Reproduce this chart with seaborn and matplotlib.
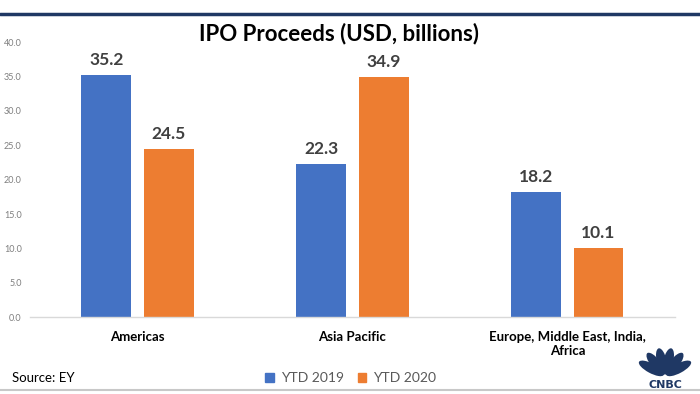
import matplotlib
matplotlib.use("Agg")
import matplotlib.pyplot as plt
import seaborn as sns
import pandas as pd
import numpy as np
from matplotlib.lines import Line2D
from matplotlib.patches import Ellipse

categories = ["Americas", "Asia Pacific", "Europe, Middle East, India,\nAfrica"]
series_names = ["YTD 2019", "YTD 2020"]
ytd_2019 = [35.2, 22.3, 18.2]
ytd_2020 = [24.5, 34.9, 10.1]
y_ticks = [0, 5, 10, 15, 20, 25, 30, 35, 40]

df = pd.DataFrame({
    "Region": categories * 2,
    "Series": [series_names[0]] * 3 + [series_names[1]] * 3,
    "Value": ytd_2019 + ytd_2020,
})

sns.set_theme(style="white")
plt.rcParams["font.family"] = ["Lato", "DejaVu Sans"]

fig = plt.figure(figsize=(7, 3.94), dpi=100)
ax = fig.add_axes([0.043, 0.195, 0.921, 0.698])

palette = {"YTD 2019": "#4472C4", "YTD 2020": "#ED7D31"}
sns.barplot(data=df, x="Region", y="Value", hue="Series", palette=palette,
            order=categories, hue_order=series_names, width=0.58, gap=0.2,
            saturation=1, legend=False, linewidth=0, ax=ax)

for cont in ax.containers:
    ax.bar_label(cont, fmt="%.1f", padding=5, fontsize=12.5, fontweight="bold",
                 color="#404040")

ax.set_ylim(0, 40)
ax.set_yticks(y_ticks)
ax.set_yticklabels([f"{v:.1f}" for v in y_ticks], fontsize=6.5, color="#7f7f7f")
ax.tick_params(axis="y", length=0, pad=6)
ax.tick_params(axis="x", length=0, pad=10)
for lbl in ax.get_xticklabels():
    lbl.set_fontsize(9.5)
    lbl.set_fontweight("bold")
    lbl.set_color("#000000")
ax.set_xlabel("")
ax.set_ylabel("")
for s in ["top", "right", "left"]:
    ax.spines[s].set_visible(False)
ax.spines["bottom"].set_color("#d9d9d9")
ax.spines["bottom"].set_linewidth(1)

fig.text(0.484, 0.915, "IPO Proceeds (USD, billions)", ha="center", va="center",
         fontsize=16, fontweight="bold", color="#000000")

fig.add_artist(Line2D([0, 1], [0.965, 0.965], color="#1F3864", lw=2.5,
                      transform=fig.transFigure))
fig.add_artist(Line2D([0, 1], [0.01, 0.01], color="#c8c8c8", lw=1.5,
                      transform=fig.transFigure))

fig.text(0.017, 0.04, "Source: EY", ha="left", va="center", fontsize=9.5,
         color="#000000")

handles = [plt.Rectangle((0, 0), 1, 1, color=palette[s]) for s in series_names]
fig.legend(handles, series_names, loc="center", bbox_to_anchor=(0.501, 0.04),
           ncol=2, frameon=False, fontsize=10, handlelength=0.6, handleheight=0.6,
           handletextpad=0.5, columnspacing=1.0, labelcolor="#595959")

# CNBC logo (simplified peacock + wordmark)
lax = fig.add_axes([0.905, 0.035, 0.09, 0.09])
lax.set_xlim(-1, 1)
lax.set_ylim(-0.1, 1.1)
lax.axis("off")
for ang in np.linspace(150, 30, 6):
    r = np.deg2rad(ang)
    lax.add_patch(Ellipse((0.5 * np.cos(r), 0.05 + 0.5 * np.sin(r)), 0.32, 0.9,
                          angle=ang - 90, color="#1F3864", lw=0))
fig.text(0.95, 0.022, "CNBC", ha="center", va="center", fontsize=8,
         fontweight="black", color="#1F3864", family=["DejaVu Sans"])

fig.savefig("out.png", dpi=100)
